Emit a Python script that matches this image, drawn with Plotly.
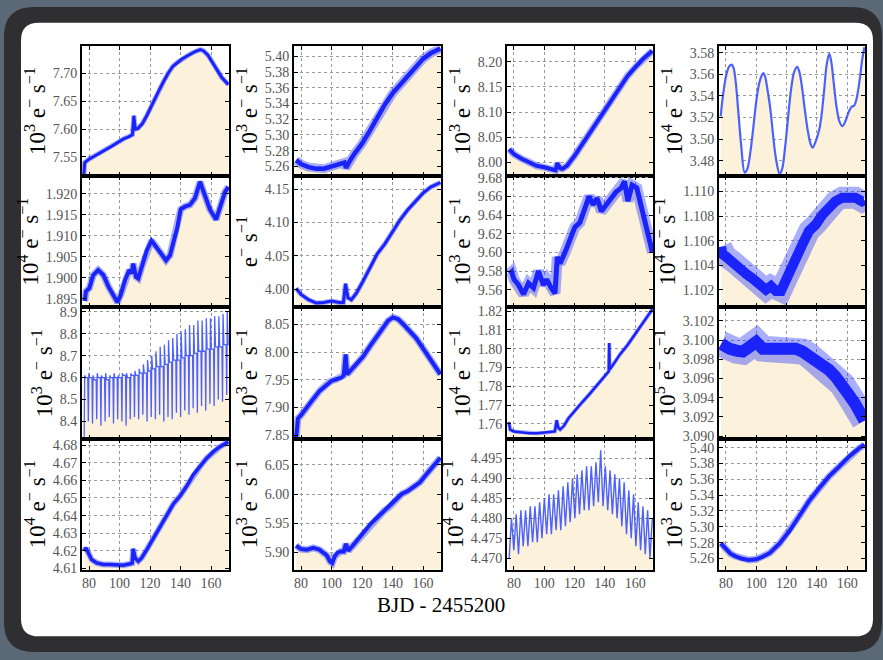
import plotly.graph_objects as go

W, H = 883, 660

# ---- light curves: BJD - 2455200 vs flux -------------------------------
r1c1_day = [76.6, 77.2, 80, 84, 88, 92, 96, 100, 103, 106, 108.5, 109.4, 110.3, 112, 115, 118, 120, 123,
            126, 129, 132, 135, 138, 141, 144, 147, 150, 153, 155, 158, 161, 164, 167, 170, 171.4]
r1c1_flux = [7.518, 7.540, 7.546, 7.552, 7.558, 7.565, 7.571, 7.578, 7.583, 7.586, 7.590, 7.624, 7.600,
             7.601, 7.610, 7.625, 7.637, 7.653, 7.670, 7.686, 7.701, 7.713, 7.720, 7.726, 7.731, 7.736,
             7.740, 7.743, 7.741, 7.733, 7.720, 7.705, 7.693, 7.684, 7.680]

r1c2_day = [76.8, 80, 85, 90, 95, 100, 105, 108.5, 109.5, 110.5, 112, 115, 120, 125, 130, 135, 140, 145,
            150, 155, 160, 165, 171.4]
r1c2_flux = [5.268, 5.263, 5.259, 5.257, 5.257, 5.260, 5.263, 5.265, 5.258, 5.262, 5.267, 5.276, 5.289,
             5.305, 5.322, 5.339, 5.353, 5.364, 5.376, 5.387, 5.397, 5.404, 5.410]

r1c3_day = [76.8, 80, 85, 90, 95, 100, 105, 107.5, 108.6, 109.4, 110.5, 112, 115, 120, 125, 130, 135, 140,
            145, 150, 155, 160, 165, 171.4]
r1c3_flux = [8.026, 8.016, 8.007, 8.000, 7.993, 7.990, 7.987, 7.984, 7.998, 7.993, 7.988, 7.987, 7.993,
             8.013, 8.036, 8.059, 8.081, 8.104, 8.129, 8.152, 8.172, 8.189, 8.205, 8.222]

r1c4_day = [76.5, 78, 80, 82, 83.7, 85, 86.5, 88, 90, 92.4, 94, 96, 98, 100, 102, 104, 104.9, 106, 107.5,
            109.3, 111, 113, 115.4, 117, 119, 121, 123, 125, 127, 128.5, 130, 132, 134, 136, 137.2, 139,
            141.6, 143, 145, 146.5, 148.2, 149.5, 151, 153, 155, 156.9, 159, 161, 163, 164.6, 166, 168,
            170, 171.4]
r1c4_flux = [3.521, 3.540, 3.558, 3.567, 3.569, 3.566, 3.552, 3.528, 3.495, 3.469, 3.472, 3.487, 3.510,
             3.535, 3.552, 3.560, 3.561, 3.557, 3.545, 3.528, 3.505, 3.482, 3.468, 3.472, 3.492, 3.520,
             3.546, 3.562, 3.567, 3.562, 3.550, 3.528, 3.508, 3.495, 3.492, 3.497, 3.509, 3.521, 3.548,
             3.569, 3.579, 3.572, 3.554, 3.530, 3.516, 3.512, 3.517, 3.525, 3.530, 3.531, 3.536, 3.552,
             3.574, 3.585]

r2c1_day = [77.2, 78, 80.2, 82.8, 86, 89.4, 92.7, 96, 98.6, 100.8, 103.6, 106.4, 108, 109, 110.8, 112.3,
            114.5, 117.8, 121, 124.4, 127.7, 130.5, 133.1, 135.7, 137.9, 140.1, 142.9, 146.2, 149.5, 152.8,
            153.9, 156, 159.3, 163.3, 165.9, 169.2, 171.4]
r2c1_flux = [1.8945, 1.8968, 1.8976, 1.9007, 1.9019, 1.9007, 1.8980, 1.8956, 1.8942, 1.8960, 1.8995,
             1.9019, 1.9011, 1.9034, 1.9003, 1.8999, 1.9026, 1.9065, 1.9089, 1.9073, 1.9054, 1.9042,
             1.9054, 1.9089, 1.9120, 1.9163, 1.9170, 1.9174, 1.9190, 1.9229, 1.9217, 1.9198, 1.9163,
             1.9139, 1.9170, 1.9205, 1.9217]

r2c2_day = [76.8, 80, 85, 90, 95, 100, 105, 107.8, 109.2, 110.8, 113, 116.3, 120, 125, 130, 135, 140, 145,
            150, 155, 160, 165, 171.4]
r2c2_flux = [4.001, 3.992, 3.984, 3.979, 3.980, 3.982, 3.980, 3.980, 4.008, 3.987, 3.984, 3.994, 4.009,
             4.031, 4.053, 4.068, 4.087, 4.104, 4.119, 4.131, 4.144, 4.153, 4.160]

r2c3_day = [77.2, 78.5, 80, 83, 86.3, 89.6, 92.9, 96.2, 99.4, 101.6, 104.5, 107.1, 108.6, 110.4, 113.7,
            117, 120.2, 123.5, 126.8, 129.6, 132.2, 134.9, 137.7, 141, 144.3, 147.5, 150.8, 153, 155.2,
            158, 161.1, 163.9, 167.2, 171.4]
r2c3_flux = [9.577, 9.579, 9.571, 9.565, 9.555, 9.567, 9.562, 9.580, 9.565, 9.571, 9.562, 9.556, 9.595,
             9.588, 9.600, 9.613, 9.627, 9.632, 9.649, 9.660, 9.651, 9.658, 9.644, 9.651, 9.660, 9.665,
             9.669, 9.676, 9.655, 9.672, 9.669, 9.651, 9.630, 9.600]

r2c4_day = [76.8, 77.6, 80, 84.6, 89, 93.3, 97.7, 102.1, 106.4, 109.7, 113, 116.3, 119.6, 122.8, 126.1,
            130.5, 134.9, 139.2, 143.6, 148, 152.3, 156.7, 161.1, 165.5, 169.8, 171.4]
r2c4_flux = [1.1055, 1.1049, 1.1047, 1.1043, 1.1039, 1.1033, 1.1029, 1.1025, 1.1020, 1.1023, 1.1019,
             1.1019, 1.1028, 1.1039, 1.1049, 1.1057, 1.1068, 1.1073, 1.1081, 1.1087, 1.1092, 1.1095,
             1.1096, 1.1095, 1.1092, 1.1093]

# pulsating star: eclipse-like dips with growing brightening spikes
r3c1_dip_day = [76.8, 79.55, 82.3, 85.05, 87.8, 90.55, 93.3, 96.05, 98.8, 101.55, 104.3, 107.05, 109.8,
                112.55, 115.3, 118.05, 120.8, 123.55, 126.3, 129.05, 131.8, 134.55, 137.3, 140.05, 142.8,
                145.55, 148.3, 151.05, 153.8, 156.55, 159.3, 162.05, 164.8, 167.55, 170.3]
r3c1_dip = [8.33, 8.40, 8.39, 8.41, 8.38, 8.40, 8.42, 8.39, 8.41, 8.40, 8.38, 8.41, 8.42, 8.41, 8.43,
            8.40, 8.42, 8.41, 8.43, 8.40, 8.42, 8.41, 8.44, 8.42, 8.45, 8.43, 8.46, 8.44, 8.47, 8.45, 8.48,
            8.47, 8.50, 8.49, 8.52]
r3c1_peak = [8.61, 8.62, 8.61, 8.62, 8.61, 8.62, 8.61, 8.62, 8.61, 8.62, 8.62, 8.62, 8.63, 8.64, 8.66,
             8.68, 8.70, 8.72, 8.74, 8.75, 8.77, 8.78, 8.80, 8.81, 8.82, 8.84, 8.84, 8.86, 8.86, 8.87,
             8.87, 8.88, 8.88, 8.89, 8.90]
r3c1_base = [8.60, 8.60, 8.59, 8.60, 8.60, 8.59, 8.60, 8.60, 8.60, 8.61, 8.60, 8.61, 8.61, 8.62, 8.62,
             8.63, 8.64, 8.65, 8.65, 8.66, 8.67, 8.68, 8.68, 8.69, 8.70, 8.70, 8.71, 8.72, 8.72, 8.73,
             8.73, 8.74, 8.74, 8.75, 8.75]

r3c2_day = [76.8, 77.4, 78, 80, 83.5, 87.9, 92.2, 96.6, 99.9, 103.2, 106.5, 108, 109.3, 110.2, 113, 116.3,
            120.7, 125, 129.4, 133.8, 137.1, 140.3, 143.6, 146.9, 151.3, 155.6, 160, 164.4, 167.7, 171.4]
r3c2_flux = [7.845, 7.877, 7.880, 7.886, 7.900, 7.915, 7.930, 7.941, 7.948, 7.951, 7.954, 7.958, 7.996,
             7.960, 7.968, 7.977, 7.992, 8.010, 8.028, 8.045, 8.057, 8.063, 8.060, 8.051, 8.039, 8.025,
             8.007, 7.989, 7.974, 7.960]

r3c3_day = [76.6, 77.5, 80, 85, 90, 95, 100, 105, 107, 108.2, 109.3, 110.5, 113, 116, 120, 125, 130, 135,
            140, 142.6, 142.9, 143.2, 145, 150, 155, 160, 165, 171.4]
r3c3_flux = [1.761, 1.757, 1.756, 1.7555, 1.755, 1.755, 1.7553, 1.7555, 1.756, 1.762, 1.758, 1.757,
             1.759, 1.763, 1.767, 1.7715, 1.776, 1.781, 1.786, 1.788, 1.803, 1.789, 1.791, 1.797, 1.802,
             1.808, 1.814, 1.821]

r3c4_day = [76.8, 78, 82.4, 86.8, 91.1, 95.5, 99.9, 104.3, 108.6, 113, 117.4, 121.7, 126.1, 130.5, 134.9,
            139.2, 143.6, 148, 152.3, 156.7, 161.1, 165.5, 169.8, 171.4]
r3c4_flux = [3.0996, 3.0994, 3.0991, 3.0989, 3.0988, 3.0993, 3.0998, 3.0991, 3.0991, 3.0993, 3.0994,
             3.0993, 3.0991, 3.0988, 3.0984, 3.0979, 3.0974, 3.0969, 3.0962, 3.0954, 3.0943, 3.0933,
             3.0920, 3.0916]

r4c1_day = [76.8, 78, 79.6, 81.7, 85, 89.4, 93.8, 98.1, 102.5, 106.9, 108.3, 109, 110.2, 112.3, 114.5,
            117.8, 122.2, 126.6, 131, 135.3, 139.7, 144.1, 148.4, 152.8, 157.2, 161.5, 165.9, 171.4]
r4c1_flux = [4.6200, 4.6216, 4.6188, 4.6151, 4.6132, 4.6123, 4.6123, 4.6119, 4.6119, 4.6127, 4.6130,
             4.6212, 4.6160, 4.6141, 4.6160, 4.6206, 4.6271, 4.6345, 4.6410, 4.6466, 4.6512, 4.6568,
             4.6633, 4.6679, 4.6726, 4.6763, 4.6791, 4.6819]

r4c2_day = [76.8, 80, 84, 88, 92, 95, 97, 99, 100.5, 102, 104, 106, 108, 109.5, 111, 114, 118, 122, 126,
            130, 134, 138, 142, 146, 150, 154, 158, 162, 166, 171.4]
r4c2_flux = [5.912, 5.906, 5.905, 5.908, 5.905, 5.900, 5.895, 5.885, 5.882, 5.893, 5.900, 5.902, 5.902,
             5.915, 5.903, 5.912, 5.925, 5.937, 5.950, 5.960, 5.970, 5.978, 5.990, 6.000, 6.005, 6.012,
             6.020, 6.033, 6.045, 6.062]

# oscillating star: cycle minima and maxima
r4c3_cycle_day = [76.8, 79.9, 83.0, 86.1, 89.2, 92.3, 95.4, 98.5, 101.6, 104.7, 107.8, 110.9, 114.0,
                  117.1, 120.2, 123.3, 126.4, 129.5, 132.6, 135.7, 138.8, 141.9, 145.0, 148.1, 151.2,
                  154.3, 157.4, 160.5, 163.6, 166.7, 169.8]
r4c3_low = [4.470, 4.472, 4.471, 4.473, 4.473, 4.474, 4.474, 4.475, 4.476, 4.476, 4.477, 4.477, 4.478,
            4.479, 4.480, 4.481, 4.482, 4.482, 4.483, 4.484, 4.483, 4.482, 4.481, 4.480, 4.478, 4.476,
            4.475, 4.473, 4.472, 4.471, 4.470]
r4c3_high = [4.480, 4.481, 4.482, 4.482, 4.483, 4.483, 4.484, 4.485, 4.486, 4.486, 4.487, 4.488, 4.489,
             4.490, 4.491, 4.492, 4.493, 4.493, 4.494, 4.497, 4.493, 4.492, 4.491, 4.490, 4.489, 4.487,
             4.486, 4.484, 4.483, 4.482, 4.480]

r4c4_day = [76.6, 80, 83, 86, 90, 95, 100, 104, 109, 115.4, 122, 128.5, 135, 141.6, 148.2, 154.7, 161.3,
            167.8, 171.4]
r4c4_flux = [5.279, 5.272, 5.266, 5.263, 5.260, 5.258, 5.259, 5.262, 5.267, 5.279, 5.295, 5.314, 5.333,
             5.349, 5.364, 5.376, 5.389, 5.399, 5.404]

x_ticks = [80, 100, 120, 140, 160]
x_title = "BJD - 2455200"

# ---- assemble the two periodic curves from their cycle tables ----------
r3c1_day, r3c1_flux = [], []
for t, d, p, b in zip(r3c1_dip_day, r3c1_dip, r3c1_peak, r3c1_base):
    r3c1_day += [t, t + 0.35, t + 0.9, t + 2.4]
    r3c1_flux += [d, p, b, b]

r4c3_day, r4c3_flux = [], []
for t, lo, hi in zip(r4c3_cycle_day, r4c3_low, r4c3_high):
    r4c3_day += [t, t + 1.55]
    r4c3_flux += [lo, hi]

SP = "&nbsp;"
U3 = f"10<sup>3</sup>{SP}e<sup>\u2212</sup>{SP}s<sup>\u22121</sup>"
U4 = f"10<sup>4</sup>{SP}e<sup>\u2212</sup>{SP}s<sup>\u22121</sup>"
U5 = f"10<sup>5</sup>{SP}e<sup>\u2212</sup>{SP}s<sup>\u22121</sup>"
U0 = f"e<sup>\u2212</sup>{SP}s<sup>\u22121</sup>"

BLUE = "rgb(25,35,250)"
LIGHT_BLUE = "rgba(45,70,255,0.85)"
HALO = "rgba(30,45,250,0.38)"
BEIGE = "#FCF2DC"

# (x, y, unit, y-range, first tick, tick step, format, core width, halo width, colour, shape)
panels = [
    (r1c1_day, r1c1_flux, U3, [7.516, 7.749], 7.55, 0.05, ".2f", 3, 5, BLUE, "linear"),
    (r1c2_day, r1c2_flux, U3, [5.248, 5.413], 5.26, 0.02, ".2f", 4.5, 9, BLUE, "linear"),
    (r1c3_day, r1c3_flux, U3, [7.973, 8.231], 8.00, 0.05, ".2f", 4, 7, BLUE, "linear"),
    (r1c4_day, r1c4_flux, U4, [3.466, 3.586], 3.48, 0.02, ".2f", 2.2, 0, LIGHT_BLUE, "spline"),
    (r2c1_day, r2c1_flux, U4, [1.8930, 1.9243], 1.895, 0.005, ".3f", 4, 7, BLUE, "linear"),
    (r2c2_day, r2c2_flux, U0, [3.9725, 4.170], 4.00, 0.05, ".2f", 3, 5, BLUE, "linear"),
    (r2c3_day, r2c3_flux, U3, [9.541, 9.682], 9.56, 0.02, ".2f", 5, 11, BLUE, "linear"),
    (r2c4_day, r2c4_flux, U4, [1.10056, 1.11128], 1.102, 0.002, ".3f", 10, 22, BLUE, "linear"),
    (r3c1_day, r3c1_flux, U3, [8.32, 8.92], 8.4, 0.1, ".1f", 1.3, 0, LIGHT_BLUE, "linear"),
    (r3c2_day, r3c2_flux, U3, [7.843, 8.081], 7.85, 0.05, ".2f", 4, 7, BLUE, "linear"),
    (r3c3_day, r3c3_flux, U4, [1.752, 1.822], 1.76, 0.01, ".2f", 2.5, 4, BLUE, "linear"),
    (r3c4_day, r3c4_flux, U5, [3.0897, 3.1034], 3.090, 0.002, ".3f", 12, 26, BLUE, "linear"),
    (r4c1_day, r4c1_flux, U4, [4.6094, 4.6835], 4.61, 0.01, ".2f", 3.5, 6, BLUE, "linear"),
    (r4c2_day, r4c2_flux, U3, [5.871, 6.094], 5.90, 0.05, ".2f", 4, 7, BLUE, "linear"),
    (r4c3_day, r4c3_flux, U4, [4.4672, 4.4998], 4.470, 0.005, ".3f", 1.4, 0, LIGHT_BLUE, "linear"),
    (r4c4_day, r4c4_flux, U3, [5.246, 5.411], 5.26, 0.02, ".2f", 4, 7, BLUE, "linear"),
]

COLS = [(82, 229), (294, 441), (507, 653), (719, 865)]
ROWS = [(42, 174), (174, 308), (308, 442), (442, 575)]
X_RANGE = [75.4, 171.8]

SERIF = "Liberation Serif"
TICK_FONT = dict(family=SERIF, size=14, color="#555555")

fig = go.Figure()
layout = {}
for i, (xs, ys, unit, yr, t0, dt, fmt, lw, halo, col, shape) in enumerate(panels):
    r, c = divmod(i, 4)
    n = i + 1
    sfx = "" if n == 1 else str(n)
    refs = dict(xaxis="x" + sfx, yaxis="y" + sfx, hoverinfo="skip", showlegend=False)
    # shaded area under the light curve
    fig.add_trace(go.Scatter(x=xs, y=ys, mode="lines", line=dict(width=0, shape=shape),
                             fill="tozeroy", fillcolor=BEIGE, **refs))
    # soft outer band for the scatter of the photometry
    if halo:
        fig.add_trace(go.Scatter(x=xs, y=ys, mode="lines",
                                 line=dict(color=HALO, width=halo, shape=shape), **refs))
    fig.add_trace(go.Scatter(x=xs, y=ys, mode="lines",
                             line=dict(color=col, width=lw, shape=shape), **refs))
    x0, x1 = COLS[c]
    y0, y1 = ROWS[r]
    common = dict(showline=True, linecolor="black", linewidth=2, mirror="ticks",
                  ticks="inside", ticklen=4, tickcolor="black", tickwidth=1,
                  showgrid=True, gridcolor="#9a9a9a", griddash="dot", gridwidth=1,
                  zeroline=False, tickfont=TICK_FONT)
    layout["xaxis" + sfx] = dict(
        common, domain=[x0 / W, x1 / W], anchor="y" + sfx, range=X_RANGE,
        tickmode="array", tickvals=x_ticks, showticklabels=(r == 3),
    )
    layout["yaxis" + sfx] = dict(
        common, domain=[1 - y1 / H, 1 - y0 / H], anchor="x" + sfx, range=yr,
        tick0=t0, dtick=dt, tickformat=fmt,
        title=dict(text=unit, font=dict(family=SERIF, size=23, color="black"), standoff=1),
    )


def rounded(x0, y0, x1, y1, rad):
    rx, ry = rad / W, rad / H
    a, b, c, d = x0 / W, 1 - y1 / H, x1 / W, 1 - y0 / H
    return (f"M {a + rx},{b} L {c - rx},{b} Q {c},{b} {c},{b + ry} "
            f"L {c},{d - ry} Q {c},{d} {c - rx},{d} L {a + rx},{d} "
            f"Q {a},{d} {a},{d - ry} L {a},{b + ry} Q {a},{b} {a + rx},{b} Z")


shapes = [
    dict(type="path", xref="paper", yref="paper", layer="below",
         path=rounded(4, 2, 882, 659, 30), fillcolor="#2f2f31", line=dict(width=0)),
    dict(type="path", xref="paper", yref="paper", layer="below",
         path=rounded(21, 18, 873, 643, 18), fillcolor="white", line=dict(width=0)),
]

fig.update_layout(
    width=W, height=H, margin=dict(l=0, r=0, t=0, b=0),
    paper_bgcolor="#5b6875", plot_bgcolor="white",
    shapes=shapes,
    annotations=[dict(text=x_title, xref="paper", yref="paper", x=441 / W, y=1 - 625 / H,
                      showarrow=False, font=dict(family=SERIF, size=21, color="black"))],
    **layout,
)

fig.write_html("out.html")
